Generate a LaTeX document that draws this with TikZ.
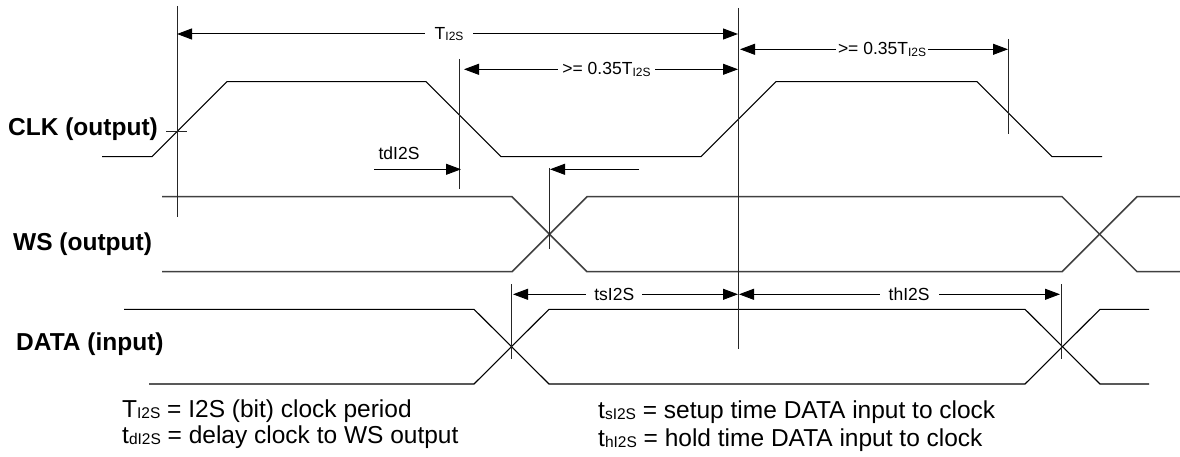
\documentclass[tikz,border=0pt]{standalone}
\usepackage{fontspec}
\setmainfont{Liberation Sans}
\usetikzlibrary{arrows.meta}

\newcommand{\smallsub}[2][12]{\raisebox{-1.5pt}{\fontsize{#1}{#1}\selectfont #2}}

\tikzset{
    wave/.style = {line width=1.1pt},
    wsline/.style = {line width=1.5pt, black!75},
    marker/.style = {line width=1pt, black!85},
    tip/.style = {Triangle[length=15pt, width=11pt]},
    dim/.style = {line width=1pt, {Triangle[length=15pt, width=11pt]}-{Triangle[length=15pt, width=11pt]}},
    dimlabel/.style = {fill=white, inner sep=4pt, font=\fontsize{17.5}{20}\selectfont},
    siglabel/.style = {anchor=base west, inner sep=0pt, font=\fontsize{24.5}{28}\selectfont\bfseries},
    legend/.style = {anchor=base west, inner sep=0pt, font=\fontsize{24.5}{28}\selectfont}
}

\begin{document}
\begin{tikzpicture}[x=1pt, y=-1pt]
    \useasboundingbox (0, 0) rectangle (1180, 457);

    %% signal names
    \node[siglabel] (clk) at (8, 136) {CLK (output)};
    \node[siglabel] (ws) at (13, 250) {WS (output)};
    \node[siglabel] (data) at (16, 350) {DATA (input)};

    %% waveforms
    \draw[wave] (102, 156.7) -- (152, 156.7) -- (227, 81.7) -- (426, 81.7)
        -- (501, 156.7) -- (701, 156.7) -- (776, 81.7) -- (977, 81.7)
        -- (1052, 156.7) -- (1102, 156.7);
    \draw[wsline] (162, 196.7) -- (512, 196.7) -- (587, 271.7) -- (1062, 271.7)
        -- (1137, 196.7) -- (1180, 196.7);
    \draw[wsline] (162, 271.7) -- (512, 271.7) -- (587, 196.7) -- (1062, 196.7)
        -- (1137, 271.7) -- (1180, 271.7);
    \draw[wave] (124, 309.3) -- (474, 309.3) -- (549, 384) -- (1025, 384)
        -- (1100, 309.3) -- (1149, 309.3);
    \draw[wave] (149, 384) -- (474, 384) -- (549, 309.3) -- (1025, 309.3)
        -- (1100, 384) -- (1149, 384);

    %% reference lines
    \draw[marker] (177, 6) -- (177, 217);
    \draw[marker] (166, 131.7) -- (187, 131.7);
    \draw[marker] (459, 59) -- (459, 189);
    \draw[marker] (738, 8) -- (738, 349);
    \draw[marker] (1008, 39) -- (1008, 134);
    \draw[marker] (549, 168) -- (549, 249);
    \draw[marker] (511, 284) -- (511, 359);
    \draw[marker] (1061, 284) -- (1061, 359);

    %% arrow ends
    \coordinate (per-l) at (177, 34);
    \coordinate (per-r) at (738, 34);
    \coordinate (lo-l) at (464, 69.3);
    \coordinate (lo-r) at (738, 69.3);
    \coordinate (hi-l) at (740, 49.3);
    \coordinate (hi-r) at (1008, 49.3);
    \coordinate (td-a) at (374, 169.3);
    \coordinate (td-b) at (461, 169.3);
    \coordinate (ws-a) at (639, 169.3);
    \coordinate (ws-b) at (550, 169.3);
    \coordinate (ts-l) at (513, 294.3);
    \coordinate (ts-r) at (738, 294.3);
    \coordinate (th-l) at (739, 294.3);
    \coordinate (th-r) at (1060, 294.3);

    %% dimensions
    \draw[dim] (per-l) -- node[dimlabel, inner xsep=10pt, pos=0.485] (per) {T\smallsub{I2S}} (per-r);
    \draw[dim] (lo-l) -- node[dimlabel, pos=0.52] (lo) {>= 0.35T\smallsub{I2S}} (lo-r);
    \draw[dim] (hi-l) -- node[dimlabel, inner xsep=2pt, pos=0.53] (hi) {>= 0.35T\smallsub{I2S}} (hi-r);
    \draw[line width=1pt, -{Triangle[length=15pt, width=11pt]}] (td-a) -- (td-b);
    \node[font=\fontsize{17.5}{20}\selectfont, inner sep=0pt] (td) at (399, 153) {tdI2S};
    \draw[line width=1pt, -{Triangle[length=15pt, width=11pt]}] (ws-a) -- (ws-b);
    \draw[dim] (ts-l) -- node[dimlabel, inner xsep=8pt, pos=0.45] (ts) {tsI2S} (ts-r);
    \draw[dim] (th-l) -- node[dimlabel, inner xsep=9pt, pos=0.53] (th) {thI2S} (th-r);

    %% legend
    \node[legend] (leg1) at (122, 417) {T\smallsub[15.5]{I2S} = I2S (bit) clock period};
    \node[legend] (leg2) at (122, 443) {t\smallsub[15.5]{dI2S} = delay clock to WS output};
    \node[legend] (leg3) at (598, 418) {t\smallsub[15.5]{sI2S} = setup time DATA input to clock};
    \node[legend] (leg4) at (598, 446) {t\smallsub[15.5]{hI2S} = hold time DATA input to clock};
\end{tikzpicture}
\end{document}
